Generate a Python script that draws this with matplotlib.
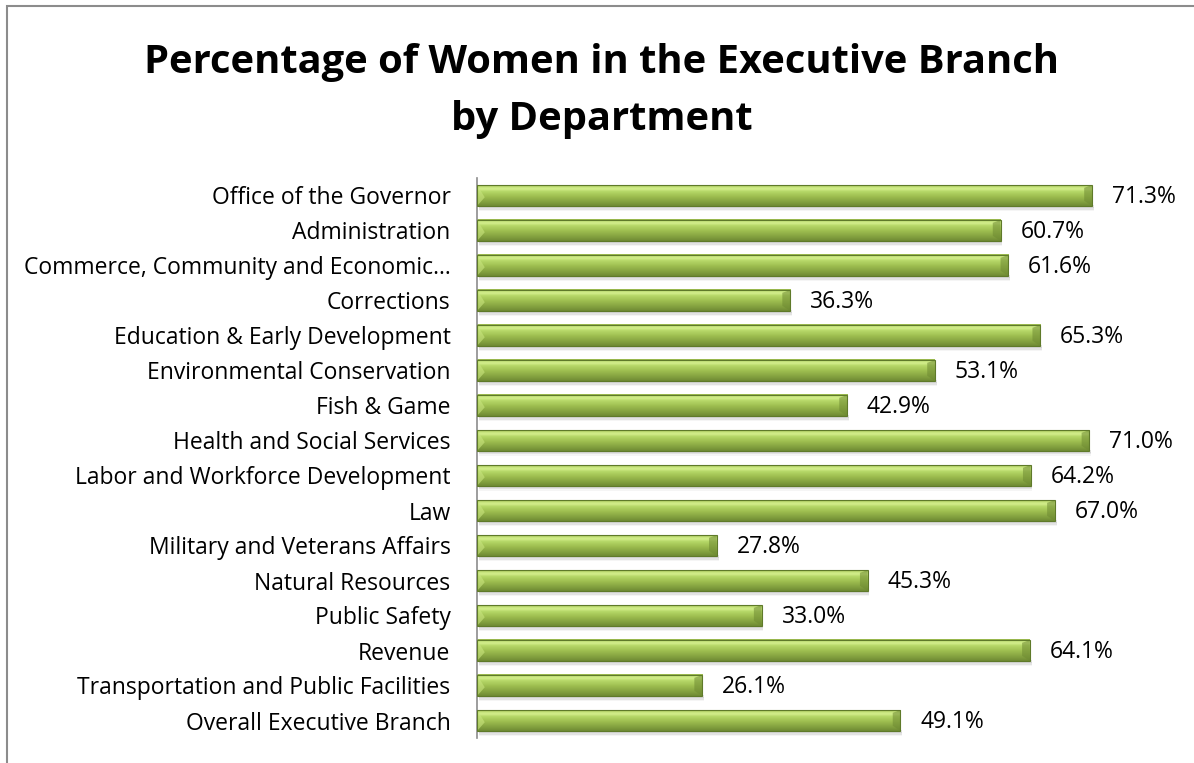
import numpy as np
import matplotlib as mpl
mpl.use('Agg')
from matplotlib import pyplot as plt
from matplotlib.colors import LinearSegmentedColormap
from matplotlib.patches import Rectangle, Polygon

departments = ['Office of the Governor', 'Administration',
               'Commerce, Community and Economic\u2026', 'Corrections',
               'Education & Early Development', 'Environmental Conservation',
               'Fish & Game', 'Health and Social Services',
               'Labor and Workforce Development', 'Law',
               'Military and Veterans Affairs', 'Natural Resources',
               'Public Safety', 'Revenue',
               'Transportation and Public Facilities', 'Overall Executive Branch']
pct_women = [71.3, 60.7, 61.6, 36.3, 65.3, 53.1, 42.9, 71.0,
             64.2, 67.0, 27.8, 45.3, 33.0, 64.1, 26.1, 49.1]

plt.rcParams['font.family'] = ['Open Sans', 'DejaVu Sans']

W, H = 1194, 763
fig = plt.figure(figsize=(W / 100, H / 100), dpi=100)

# frame round the chart area (only top and left edges fall inside the image)
fig.patches.append(Rectangle((7 / W, -0.1), 1.2, 1 - 6 / H + 0.1,
                             transform=fig.transFigure, fill=False,
                             edgecolor='#8c8c8c', linewidth=1.5))

fig.text(602 / W, 1 - 73 / H, 'Percentage of Women in the Executive Branch',
         ha='center', va='baseline', fontsize=28.7, fontweight='bold')
fig.text(602 / W, 1 - 130 / H, 'by Department',
         ha='center', va='baseline', fontsize=28.7, fontweight='bold')

ax = fig.add_axes([477 / W, 25 / H, 690 / W, 560 / H])

# vertical gradient used for every bar: bright top, darker bottom
green = LinearSegmentedColormap.from_list('bar', [
    (0.0, '#6f8a34'), (0.15, '#7f9c3d'), (0.45, '#9dbd4f'),
    (0.7, '#b6d868'), (0.82, '#d3ee8c'), (0.92, '#c4e27a'), (1.0, '#93b246')])
grad = np.linspace(0, 1, 64).reshape(-1, 1)

h = 0.6
n = len(departments)
for i, (name, v) in enumerate(zip(departments, pct_women)):
    y = n - 1 - i
    # soft shadow under the bar
    for k, a in enumerate([0.10, 0.07, 0.04]):
        ax.add_patch(Rectangle((0.2, y - h / 2 - 0.05 - k * 0.05), v, 0.08,
                               facecolor='black', alpha=a, linewidth=0, zorder=1))
    ax.imshow(grad, cmap=green, aspect='auto', origin='lower',
              extent=(0, v, y - h / 2, y + h / 2), zorder=2)
    # bevel highlights at the ends
    bev = 0.9
    ax.add_patch(Polygon([(0, y - h / 2), (bev, y - 0.05), (0, y + h / 2)],
                         closed=True, facecolor='#c9e57f', alpha=0.6,
                         linewidth=0, zorder=3))
    ax.add_patch(Polygon([(v, y - h / 2), (v - bev, y - h / 2 + 0.15),
                          (v - bev, y + h / 2 - 0.08), (v, y + h / 2)],
                         closed=True, facecolor='#6e8a32', alpha=0.55,
                         linewidth=0, zorder=3))
    ax.add_patch(Rectangle((0, y - h / 2), v, h, fill=False,
                           edgecolor='#5f7a2a', linewidth=0.8, zorder=4))
    ax.text(v + 2.3, y - 0.05, f'{v:.1f}%', va='center', ha='left',
            fontsize=16.5, color='#000000')

ax.set_xlim(0, 80)
ax.set_ylim(-0.5, n - 0.5)
ax.set_yticks(range(n))
ax.set_yticklabels(departments[::-1], fontsize=16.5)
ax.tick_params(axis='y', length=0, pad=19)
ax.set_xticks([])
for side in ['top', 'right', 'bottom']:
    ax.spines[side].set_visible(False)
ax.spines['left'].set_color('#8c8c8c')
ax.spines['left'].set_linewidth(1.2)

fig.savefig('out.png', dpi=100)
